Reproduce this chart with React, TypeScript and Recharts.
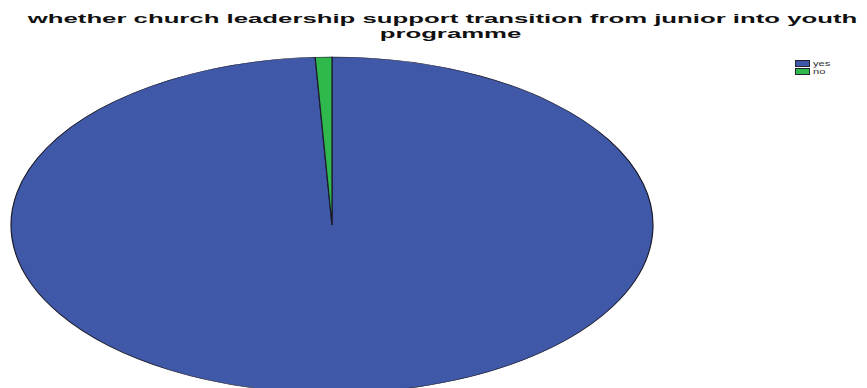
import { PieChart, Pie, Cell } from 'recharts';

const categories = ['yes', 'no'];
const counts = [119, 1];
const colors = ['#3f58a8', '#2fb84c'];

const TITLE_1 = 'whether church leadership support transition from junior into youth';
const TITLE_2 = 'programme';

const data = categories.map((name, i) => ({ name, value: counts[i] }));

// the SPSS pie is squashed into an ellipse, so draw a circle and squeeze it vertically
const R = 321;
const RY = 168;
const BOX = 650;

export default function App() {
  return (
    <div style={{ position: 'absolute', left: 0, top: 0, width: 867, height: 388, overflow: 'hidden', background: '#fff', fontFamily: "'Liberation Sans', Arial, sans-serif" }}>
      <div
        style={{
          position: 'absolute',
          left: 332 - BOX / 2,
          top: 225 - BOX / 2,
          width: BOX,
          height: BOX,
          transform: `scaleY(${RY / R})`,
          transformOrigin: '50% 50%',
        }}
      >
        <PieChart width={BOX} height={BOX} margin={{ top: 0, right: 0, bottom: 0, left: 0 }}>
          <Pie
            data={data}
            dataKey="value"
            nameKey="name"
            cx={BOX / 2}
            cy={BOX / 2}
            outerRadius={R}
            startAngle={90}
            endAngle={-270}
            stroke="#1b1b2a"
            strokeWidth={1.2}
            isAnimationActive={false}
          >
            {data.map((d, i) => (
              <Cell key={d.name} fill={colors[i]} />
            ))}
          </Pie>
        </PieChart>
      </div>

      {/* title, stretched wide like the source image */}
      <div style={{ position: 'absolute', left: 0, top: 11, width: 885, textAlign: 'center', fontWeight: 700, fontSize: 13, lineHeight: '15px', color: '#111' }}>
        <div style={{ transform: 'scaleX(1.98)' }}>{TITLE_1}</div>
        <div style={{ transform: 'translateX(8px) scaleX(1.98)' }}>{TITLE_2}</div>
      </div>

      {/* legend */}
      <div style={{ position: 'absolute', left: 795, top: 59, fontSize: 8, color: '#333' }}>
        {categories.map((c, i) => (
          <div key={c} style={{ display: 'flex', alignItems: 'center', height: 8 }}>
            <span style={{ display: 'inline-block', width: 13, height: 5, background: colors[i], border: '1px solid #223', marginRight: 3 }} />
            <span style={{ lineHeight: '7px', display: 'inline-block', transform: 'scaleX(1.4)', transformOrigin: '0 50%' }}>{c}</span>
          </div>
        ))}
      </div>
    </div>
  );
}
